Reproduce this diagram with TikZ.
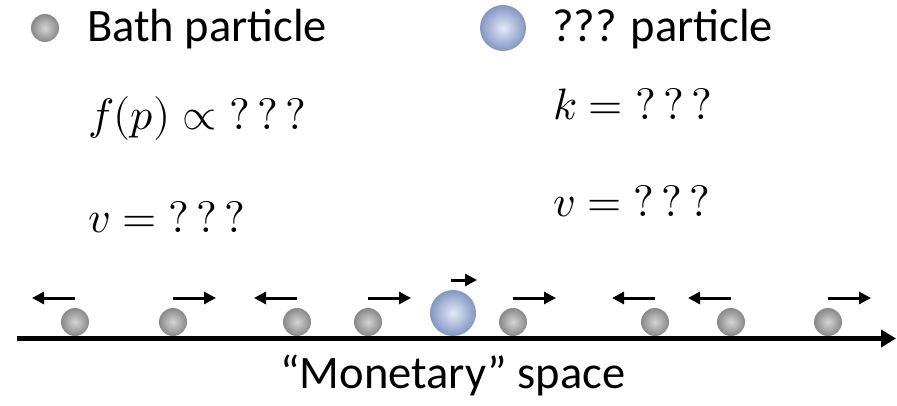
\documentclass[tikz,border=0pt]{standalone}
\usepackage{fontspec}
\usepackage{unicode-math}
\setmainfont{Carlito}
\setmathfont{Latin Modern Math}
\usetikzlibrary{arrows.meta, positioning}

\definecolor{bathin}{RGB}{212,212,212}
\definecolor{bathout}{RGB}{136,136,136}
\definecolor{tracerin}{RGB}{226,234,246}
\definecolor{tracerout}{RGB}{132,150,194}

\begin{document}
\begin{tikzpicture}[
  x=1pt, y=-1pt,
  every node/.style = {font=\fontsize{46.5}{54}\selectfont},
  %-- particle styles ----------------------------------------------------
  bath/.style   = {circle, inner sep=0pt, minimum size=28pt,
                   shading=radial, inner color=bathin, outer color=bathout},
  tracer/.style = {circle, inner sep=0pt, minimum size=46pt,
                   shading=radial, inner color=tracerin, outer color=tracerout},
  txt/.style    = {anchor=base west, inner sep=0pt},
  eqn/.style    = {txt, font=\fontsize{44}{52}\selectfont},
  vel/.style    = {-{Triangle[length=12pt, width=12pt]}, line width=3pt},
  axis/.style   = {-{Triangle[length=15pt, width=17pt]}, line width=5pt},
]
\useasboundingbox (0,0) rectangle (897,406);

% ── Legend: bath particle ────────────────────────────────────────────────────
\node[bath] (bathkey) at (45,28) {};
\node[txt] (bathname) at (87,42) {Bath particle};
\node[eqn] (bathdist) at (88,130) {$f(p) \propto ?\,?\,?$};
\node[eqn] (bathvel)  at (88,233) {$v = ?\,?\,?$};

% ── Legend: ??? particle ─────────────────────────────────────────────────────
\node[tracer] (tracerkey) at (503,28) {};
\node[txt] (tracername) at (552,42) {??? particle};
\node[eqn] (tracerk)    at (553,120) {$k = ?\,?\,?$};
\node[eqn] (tracervel)  at (553,217) {$v = ?\,?\,?$};

% ── Axis ─────────────────────────────────────────────────────────────────────
\coordinate (axstart) at (17,338.5);
\coordinate (axend)   at (896,338.5);
\draw[axis] (axstart) -- (axend);
\node[anchor=base] (axname) at (453,388) {“Monetary” space};

% ── Bath particles with velocity arrows ──────────────────────────────────────
\foreach \px/\dir [count=\i] in {75/-1, 173/1, 297/-1, 368/1,
                                 513/1, 655/-1, 731/-1, 828/1} {
  \node[bath] (b\i) at (\px,322) {};
  \coordinate (v\i) at ([yshift=24pt]b\i.center);
  \draw[vel] (v\i) -- ++(\dir*43,0);
}

% ── ??? particle ─────────────────────────────────────────────────────────────
\node[tracer] (tr) at (453,313) {};
\coordinate (vtr) at ([xshift=-2pt, yshift=33pt]tr.center);
\draw[vel] (vtr) -- ++(26,0);

\end{tikzpicture}
\end{document}
